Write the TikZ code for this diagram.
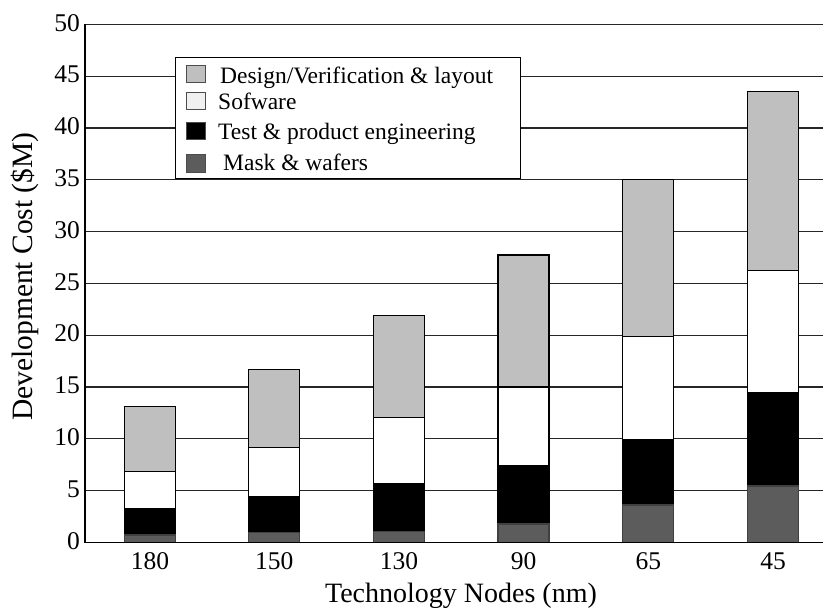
\documentclass[tikz,border=0pt]{standalone}
\usepackage{fontspec}
\setmainfont{Liberation Serif}
\definecolor{dvgray}{gray}{0.75}
\definecolor{maskgray}{gray}{0.36}
\definecolor{swlight}{gray}{0.94}
\begin{document}
\begin{tikzpicture}[x=1pt,y=1pt,
  ticklbl/.style={font=\fontsize{25.5}{30}\selectfont, inner sep=0pt},
  axtitle/.style={font=\fontsize{28}{32}\selectfont, inner sep=0pt, anchor=base},
  legtext/.style={font=\fontsize{23.5}{28}\selectfont, anchor=base west, inner sep=0pt},
  gridline/.style={black!85, line width=1.3pt},
  axisline/.style={black, line width=1.5pt},
  seg/.style={draw=black, line width=1.3pt},
  swatch/.style={draw=black!70, line width=1pt, minimum width=19pt, minimum height=17pt, inner sep=0pt, anchor=south west},
]
\useasboundingbox (0,0) rectangle (823,612);
\fill[white] (0,0) rectangle (823,612);
\begin{scope}[shift={(0,69.7)}, y=10.356pt]
  % grid
  \foreach \v in {5,10,...,50} \draw[gridline] (85,\v) -- (823,\v);
  % y tick labels
  \foreach \v in {0,5,...,50} \node[ticklbl, anchor=east] (yt\v) at (80,\v+0.15) {\v};
\end{scope}
% legend
\node[draw=black, fill=white, line width=1.3pt, minimum width=345pt, minimum height=120.7pt, anchor=south west, inner sep=0pt] (legend) at (175,433) {};
\node[swatch, fill=dvgray] (sw1) at (186,529) {};
\node[swatch, fill=swlight] (sw2) at (186,501.5) {};
\node[swatch, fill=black] (sw3) at (186,472) {};
\node[swatch, fill=maskgray, minimum height=18.5pt] (sw4) at (186,438.5) {};
\node[legtext] (lt1) at (220,528.7) {Design/Verification \& layout};
\node[legtext] (lt2) at (218,502) {Sofware};
\node[legtext] (lt3) at (218,472) {Test \& product engineering};
\node[legtext] (lt4) at (223,441.3) {Mask \& wafers};
% bars
\begin{scope}[shift={(0,69.7)}, y=10.356pt]
  \foreach \x/\lbl/\a/\b/\c/\d in {150/180/0.70/3.28/6.86/13.13,
                                   274.2/150/0.97/4.37/9.17/16.70,
                                   398.9/130/1.02/5.70/12.03/21.88,
                                   523.6/90/1.77/7.40/15.00/27.74,
                                   648.3/65/3.60/9.88/19.85/35.05,
                                   773/45/5.44/14.45/26.26/43.55} {
    \draw[seg, fill=dvgray] (\x-25.5,\c) rectangle (\x+25.5,\d);
    \draw[seg, fill=white] (\x-25.5,\b) rectangle (\x+25.5,\c);
    \draw[seg, fill=black] (\x-25.5,\a) rectangle (\x+25.5,\b);
    \draw[seg, draw=black!75, fill=maskgray] (\x-25.5,0) rectangle (\x+25.5,\a);
  }
  % axes
  \draw[axisline] (85,50) -- (85,0) -- (823,0);
\end{scope}
% x tick labels
\foreach \x/\lbl in {150/180, 274.2/150, 398.9/130, 523.6/90, 648.3/65, 773/45}
  \node[ticklbl] (xt\lbl) at (\x,51) {\lbl};
% axis titles
\node[axtitle] (xtitle) at (461,9) {Technology Nodes (nm)};
\node[axtitle, font=\fontsize{29.5}{34}\selectfont, rotate=90] (ytitle) at (32.3,335.3) {Development Cost (\$M)};
\end{tikzpicture}
\end{document}
